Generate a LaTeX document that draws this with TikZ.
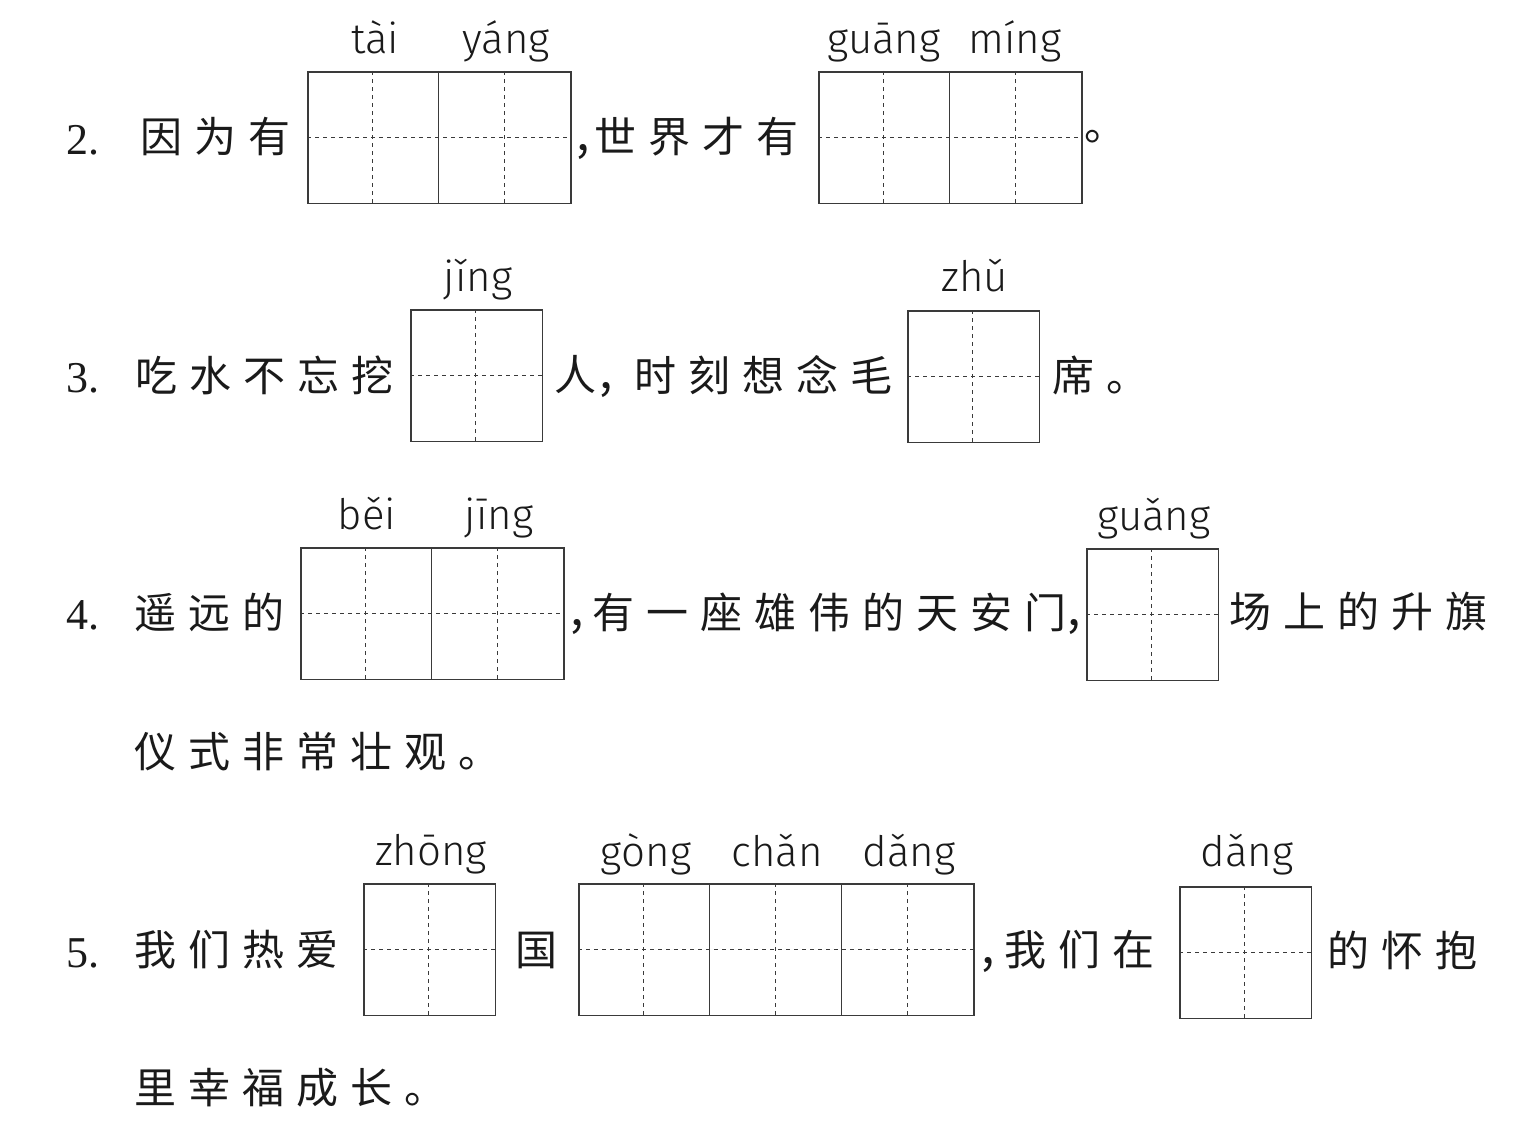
\documentclass[tikz,border=0pt]{standalone}
\usepackage{fontspec}
\newfontfamily\cjk{Noto Sans CJK SC}
\newfontfamily\py{Fira Sans}[UprightFont={* Light}]
\newfontfamily\numf{Liberation Serif}
\definecolor{boxc}{HTML}{3A3A3A}
\definecolor{inkc}{HTML}{1A1A1A}
\makeatletter
\newcommand\spc[1]{\let\spc@sep\relax\@tfor\spc@c:=#1\do{\spc@sep\spc@c\def\spc@sep{\hskip12pt\relax}}}
\makeatother
\tikzset{
  tx/.style={anchor=west, inner sep=0pt, text=inkc, font=\cjk\fontsize{42pt}{50pt}\selectfont},
  cma/.style={anchor=base west, inner sep=0pt, text=inkc, font=\cjk\fontsize{48pt}{50pt}\selectfont},
  num/.style={anchor=base west, inner sep=0pt, text=inkc, font=\numf\fontsize{44pt}{50pt}\selectfont},
  pin/.style={anchor=base, inner sep=0pt, text=inkc, font=\py\fontsize{42pt}{50pt}\selectfont},
  frame/.style={draw=boxc, line width=1.6pt, inner sep=0pt, anchor=north west},
  dashline/.style={draw=boxc, line width=0.9pt, dash pattern=on 4pt off 4pt},
  sepline/.style={draw=boxc, line width=1.3pt}
}
% #1 name, #2 x, #3 y top, #4 number of cells
\newcommand\tianbox[4]{%
  \node[frame, minimum width=#4*131.7pt, minimum height=131.7pt] (#1) at (#2,#3) {};
  \draw[dashline] (#1.west) -- (#1.east);
  \foreach \i in {1,...,#4}{%
    \draw[dashline] ({#2+(\i-0.5)*131.7},#3) -- ({#2+(\i-0.5)*131.7},{#3+131.7});
    \ifnum\i<#4\relax
      \draw[sepline] ({#2+\i*131.7},#3) -- ({#2+\i*131.7},{#3+131.7});
    \fi
  }%
}
\begin{document}
\begin{tikzpicture}[x=1pt,y=-1pt]
\useasboundingbox (0,0) rectangle (1528,1148);
\fill[white] (0,0) rectangle (1528,1148);

% ---------- row 2 ----------
\node[num] (n2) at (66,154) {2.};
\node[tx] (t2a) at (140,137) {\spc{因为有}};
\tianbox{b2a}{307}{71}{2}
\node[cma] (t2c) at (576,150) {,};
\node[tx] (t2b) at (594,137) {\spc{世界才有}};
\tianbox{b2b}{818}{71}{2}
\node[tx] (t2d) at (1084,137) {。};
\node[pin] (p2a) at (375,53) {tài};
\node[pin] (p2b) at (506,53) {yáng};
\node[pin] (p2c) at (884,53) {guāng};
\node[pin] (p2d) at (1015,53) {míng};

% ---------- row 3 ----------
\node[num] (n3) at (66,392) {3.};
\node[tx] (t3a) at (135,375) {\spc{吃水不忘挖}};
\tianbox{b3a}{410}{309}{1}
\node[tx] (t3b) at (554,375) {人};
\node[cma] (t3c) at (599,388) {,};
\node[tx] (t3d) at (634,375) {\spc{时刻想念毛}};
\tianbox{b3b}{907}{310}{1}
\node[tx] (t3e) at (1052,375) {\spc{席。}};
\node[pin] (p3a) at (478,291) {jǐng};
\node[pin] (p3b) at (975,291) {zhǔ};

% ---------- row 4 ----------
\node[num] (n4) at (66,629) {4.};
\node[tx] (t4a) at (134,612) {\spc{遥远的}};
\tianbox{b4a}{300}{547}{2}
\node[cma] (t4b) at (570,625) {,};
\node[tx] (t4c) at (592,612) {\spc{有一座雄伟的天安门}};
\node[cma] (t4d) at (1067,625) {,};
\tianbox{b4b}{1086}{548}{1}
\node[tx] (t4e) at (1229,612) {\spc{场上的升旗}};
\node[tx] (t4f) at (134,752) {\spc{仪式非常壮观。}};
\node[pin] (p4a) at (367,529) {běi};
\node[pin] (p4b) at (499,529) {jīng};
\node[pin] (p4c) at (1154,530) {guǎng};

% ---------- row 5 ----------
\node[num] (n5) at (66,967) {5.};
\node[tx] (t5a) at (134,950) {\spc{我们热爱}};
\tianbox{b5a}{363}{883}{1}
\node[tx] (t5b) at (515,950) {国};
\tianbox{b5b}{578}{883}{3}
\node[cma] (t5c) at (981,963) {,};
\node[tx] (t5d) at (1004,950) {\spc{我们在}};
\tianbox{b5c}{1179}{886}{1}
\node[tx] (t5e) at (1327,950) {\spc{的怀抱}};
\node[tx] (t5f) at (134,1088) {\spc{里幸福成长。}};
\node[pin] (p5a) at (431,865) {zhōng};
\node[pin] (p5b) at (646,866) {gòng};
\node[pin] (p5c) at (777,866) {chǎn};
\node[pin] (p5d) at (909,866) {dǎng};
\node[pin] (p5e) at (1247,866) {dǎng};
\end{tikzpicture}
\end{document}
